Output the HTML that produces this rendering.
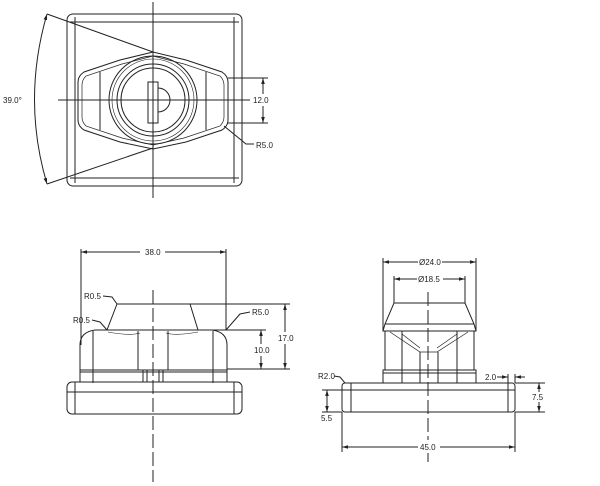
<!DOCTYPE html>
<html><head><style>html,body{margin:0;padding:0;background:#fff}svg{display:block}text{font-family:"Liberation Sans",sans-serif;font-size:8px;fill:#222}</style></head>
<body>
<svg width="600" height="486" viewBox="0 0 600 486" xmlns="http://www.w3.org/2000/svg">
<defs>
<marker id="a" viewBox="0 0 10 10" refX="10" refY="5" markerWidth="6" markerHeight="6" orient="auto-start-reverse"><path d="M0,2 L10,5 L0,8 z" fill="#222"/></marker>
</defs>
<g stroke="#222" stroke-width="1" fill="none">
<!-- TOP VIEW -->
<rect x="67" y="14" width="175" height="172" rx="6"/>
<line x1="70" y1="22" x2="239" y2="22"/><line x1="70" y1="178" x2="239" y2="178"/>
<line x1="75" y1="17" x2="75" y2="183"/><line x1="234" y1="17" x2="234" y2="183"/>
<line x1="153" y1="2" x2="153" y2="198"/>
<line x1="58" y1="100" x2="250" y2="100"/>
<path d="M120,60 L153,52 L186,60 L222,72 Q228,76 228,82 L228,120 Q228,126 222,130 L186,142 L153,149 L120,142 L84,130 Q78,126 78,120 L78,82 Q78,76 84,72 Z"/>
<path d="M122,64 L153,56 L184,64 L220,76 Q224,80 224,85 L224,117 Q224,122 220,126 L184,138 L153,145 L122,138 L86,126 Q82,122 82,117 L82,85 Q82,80 86,76 Z" stroke-width="0.7"/>
<line x1="100" y1="72" x2="100" y2="130"/><line x1="206" y1="72" x2="206" y2="130"/>
<circle cx="153" cy="100" r="44"/><circle cx="153" cy="100" r="41" stroke-width="0.6"/>
<circle cx="153" cy="100" r="36"/><circle cx="153" cy="100" r="32"/>
<rect x="148" y="82" width="10" height="41"/>
<path d="M158,88 A12,12 0 0 1 158,112"/>
<line x1="47" y1="14" x2="153" y2="52"/><line x1="47" y1="184" x2="153" y2="148"/>
<path d="M47,14 Q22,100 47,184" marker-start="url(#a)" marker-end="url(#a)"/>
<line x1="228" y1="78" x2="268" y2="78"/><line x1="228" y1="123" x2="268" y2="123"/>
<line x1="263" y1="78" x2="263" y2="94" marker-start="url(#a)"/><line x1="263" y1="106" x2="263" y2="123" marker-end="url(#a)"/>
<polyline points="224,126 246,144 254,144"/>
<!-- BOTTOM LEFT -->
<line x1="81" y1="252" x2="140" y2="252" marker-start="url(#a)"/><line x1="165" y1="252" x2="226" y2="252" marker-end="url(#a)"/>
<line x1="81" y1="249" x2="81" y2="345"/><line x1="226" y1="249" x2="226" y2="330"/>
<line x1="153" y1="290" x2="153" y2="482" stroke-dasharray="14,4"/>
<path d="M117,304 L190,304 L198,330 L107,330 Z"/>
<path d="M80,345 Q80,332 95,330 L212,330 Q227,332 227,345 L227,370 L80,370 Z"/>
<path d="M108,332 Q130,336 140,333 M198,332 Q176,336 166,333" stroke-width="0.6"/>
<line x1="93" y1="331" x2="93" y2="383"/><line x1="138" y1="331" x2="138" y2="370"/>
<line x1="168" y1="331" x2="168" y2="370"/><line x1="213" y1="331" x2="213" y2="383"/>
<rect x="80" y="370" width="147" height="12"/><line x1="80" y1="372" x2="227" y2="372"/>
<line x1="143" y1="370" x2="143" y2="382"/><line x1="147" y1="370" x2="147" y2="382"/><line x1="159" y1="370" x2="159" y2="382"/><line x1="163" y1="370" x2="163" y2="382"/>
<rect x="67" y="382" width="175" height="32" rx="5"/>
<line x1="67" y1="392" x2="242" y2="392"/>
<line x1="75" y1="382" x2="75" y2="414"/><line x1="234" y1="382" x2="234" y2="414"/>
<line x1="190" y1="304" x2="290" y2="304"/><line x1="227" y1="369" x2="290" y2="369"/>
<line x1="285" y1="304" x2="285" y2="332" marker-start="url(#a)"/><line x1="285" y1="344" x2="285" y2="369" marker-end="url(#a)"/>
<line x1="261" y1="330" x2="261" y2="344" marker-start="url(#a)"/><line x1="261" y1="356" x2="261" y2="369" marker-end="url(#a)"/>
<line x1="198" y1="330" x2="266" y2="330"/>
<polyline points="103,296 112,297 117,304"/>
<polyline points="92,320 100,322 107,330"/>
<polyline points="250,312 240,314 226,330"/>
<!-- BOTTOM RIGHT -->
<line x1="383" y1="262" x2="418" y2="262" marker-start="url(#a)"/><line x1="442" y1="262" x2="476" y2="262" marker-end="url(#a)"/>
<line x1="394" y1="279" x2="417" y2="279" marker-start="url(#a)"/><line x1="443" y1="279" x2="465" y2="279" marker-end="url(#a)"/>
<line x1="383" y1="258" x2="383" y2="331"/><line x1="476" y1="258" x2="476" y2="331"/>
<line x1="394" y1="276" x2="394" y2="303"/><line x1="465" y1="276" x2="465" y2="303"/>
<line x1="428" y1="292" x2="428" y2="440" stroke-dasharray="14,4"/>
<line x1="428" y1="453" x2="428" y2="462"/>
<path d="M394,303 L465,303 L474,324 L476,331 L383,331 L385,324 Z"/>
<line x1="385" y1="324" x2="474" y2="324"/>
<path d="M390,332 L420,352 L437,352 L468,332 M402,334 L420,348 M457,334 L437,348" stroke-width="0.7"/>
<line x1="402" y1="331" x2="402" y2="383"/><line x1="420" y1="352" x2="420" y2="383"/><line x1="438" y1="352" x2="438" y2="383"/><line x1="457" y1="331" x2="457" y2="383"/>
<line x1="385" y1="331" x2="385" y2="370"/><line x1="474" y1="331" x2="474" y2="370"/>
<rect x="383" y="370" width="93" height="13"/><line x1="383" y1="373" x2="476" y2="373"/>
<rect x="342" y="383" width="173" height="29" rx="3"/>
<line x1="342" y1="390" x2="515" y2="390"/>
<line x1="351" y1="383" x2="351" y2="412"/><line x1="508" y1="383" x2="508" y2="412"/>
<line x1="342" y1="412" x2="342" y2="452"/><line x1="515" y1="412" x2="515" y2="452"/>
<line x1="342" y1="447" x2="418" y2="447" marker-start="url(#a)"/><line x1="440" y1="447" x2="515" y2="447" marker-end="url(#a)"/>
<line x1="515" y1="383" x2="545" y2="383"/><line x1="515" y1="412" x2="545" y2="412"/>
<line x1="539" y1="383" x2="539" y2="392" marker-start="url(#a)"/><line x1="539" y1="402" x2="539" y2="412" marker-end="url(#a)"/>
<line x1="322" y1="390" x2="342" y2="390"/><line x1="322" y1="412" x2="342" y2="412"/>
<line x1="327" y1="390" x2="327" y2="412" marker-start="url(#a)" marker-end="url(#a)"/>
<line x1="508" y1="374" x2="508" y2="383"/><line x1="515" y1="374" x2="515" y2="383"/>
<line x1="497" y1="377" x2="508" y2="377" marker-end="url(#a)"/><line x1="525" y1="377" x2="515" y2="377" marker-end="url(#a)"/>
<polyline points="334,376 340,377 345,383"/>
</g>
<text x="3" y="103">39.0°</text>
<text x="253" y="103">12.0</text>
<text x="256" y="148">R5.0</text>
<text x="145" y="255">38.0</text>
<text x="84" y="299">R0.5</text>
<text x="73" y="323">R0.5</text>
<text x="252" y="315">R5.0</text>
<text x="278" y="341">17.0</text>
<text x="254" y="353">10.0</text>
<text x="419" y="265">Ø24.0</text>
<text x="418" y="282">Ø18.5</text>
<text x="485" y="380">2.0</text>
<text x="318" y="379">R2.0</text>
<text x="532" y="400">7.5</text>
<text x="321" y="421">5.5</text>
<text x="420" y="450">45.0</text>
</svg>
</body></html>
